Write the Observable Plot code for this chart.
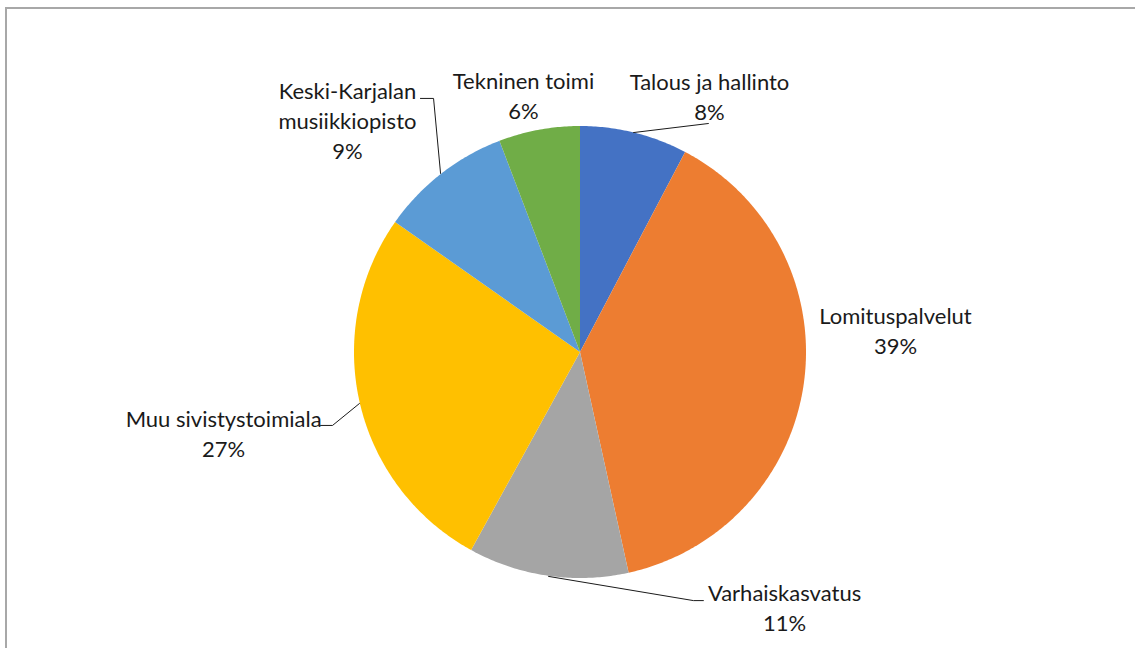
<!DOCTYPE html>
<html>
<head>
<meta charset="utf-8">
<script src="https://cdn.jsdelivr.net/npm/d3@7"></script>
<script src="https://cdn.jsdelivr.net/npm/@observablehq/plot@0.6"></script>
<style>
  html, body { margin: 0; padding: 0; background: #fff; overflow: hidden; }
  #wrap { position: relative; width: 1135px; height: 648px; }
  #frame { position: absolute; left: 5px; top: 7px; width: 1140px; height: 660px;
           border: 2px solid #a8a8a8; box-sizing: border-box; pointer-events: none; }
  #chart { position: absolute; left: 0; top: 0; }
</style>
</head>
<body>
<div id="wrap"><div id="chart"></div><div id="frame"></div></div>
<script>
// ---- data ----
const categories = ["Talous ja hallinto", "Lomituspalvelut", "Varhaiskasvatus", "Muu sivistystoimiala", "Keski-Karjalan musiikkiopisto", "Tekninen toimi"];
const labelLines = [["Talous ja hallinto"], ["Lomituspalvelut"], ["Varhaiskasvatus"], ["Muu sivistystoimiala"], ["Keski-Karjalan", "musiikkiopisto"], ["Tekninen toimi"]];
const shares = [7.7, 38.85, 11.45, 26.75, 9.45, 5.8];
const colors = ["#4472C4", "#ED7D31", "#A5A5A5", "#FFC000", "#5B9BD5", "#70AD47"];

// ---- layout (in units of pie radius, relative to pie centre; y up) ----
const W = 1135, H = 648, CX = 579.5, CY = 351.5, R = 226;
const labelPos = [[0.573, 1.135], [1.396, 0.10], [0.905, -1.126], [-1.577, -0.356], [-1.029, 1.029], [-0.250, 1.139]];
const leaders = [
  {name: "Talous ja hallinto", pts: [[0.237, 0.971], [0.568, 1.011]]},
  {name: "Keski-Karjalan musiikkiopisto", pts: [[-0.617, 0.790], [-0.648, 1.122], [-0.706, 1.122]]},
  {name: "Muu sivistystoimiala", pts: [[-0.976, -0.228], [-1.095, -0.325], [-1.148, -0.325]]},
  {name: "Varhaiskasvatus", pts: [[-0.139, -0.993], [0.502, -1.100], [0.546, -1.100]]}
];

// ---- build slices ----
const data = categories.map((name, i) => ({name, value: shares[i]}));
const arcs = d3.pie().sort(null).value(d => d.value)(data);
const slicePts = [];
for (const a of arcs) {
  slicePts.push({name: a.data.name, x: 0, y: 0});
  const n = Math.max(4, Math.ceil((a.endAngle - a.startAngle) / 0.01));
  for (let k = 0; k <= n; k++) {
    const t = a.startAngle + (a.endAngle - a.startAngle) * k / n;
    slicePts.push({name: a.data.name, x: Math.sin(t), y: Math.cos(t)});
  }
  slicePts.push({name: a.data.name, x: 0, y: 0});
}
const total = d3.sum(shares);
const labels = categories.map((name, i) => ({
  name,
  text: [...labelLines[i], Math.round(shares[i] / total * 100) + "%"].join("\n"),
  x: labelPos[i][0], y: labelPos[i][1]
}));
const leaderPts = leaders.flatMap(l => l.pts.map(([x, y]) => ({name: l.name, x, y})));

const chart = Plot.plot({
  width: W, height: H, margin: 0,
  x: {domain: [-CX / R, (W - CX) / R], axis: null},
  y: {domain: [-(H - CY) / R, CY / R], axis: null},
  color: {domain: categories, range: colors},
  style: {fontFamily: "Lato, 'Open Sans', sans-serif", background: "transparent"},
  marks: [
    Plot.line(slicePts, {x: "x", y: "y", z: "name", fill: "name", stroke: "none", curve: "linear"}),
    Plot.line(leaderPts, {x: "x", y: "y", z: "name", stroke: "#1a1a1a", strokeWidth: 1}),
    Plot.text(labels, {x: "x", y: "y", text: "text", fill: "#1a1a1a", fontSize: 22, lineHeight: 1.36, textAnchor: "middle"})
  ]
});
document.getElementById("chart").appendChild(chart);
</script>
</body>
</html>
